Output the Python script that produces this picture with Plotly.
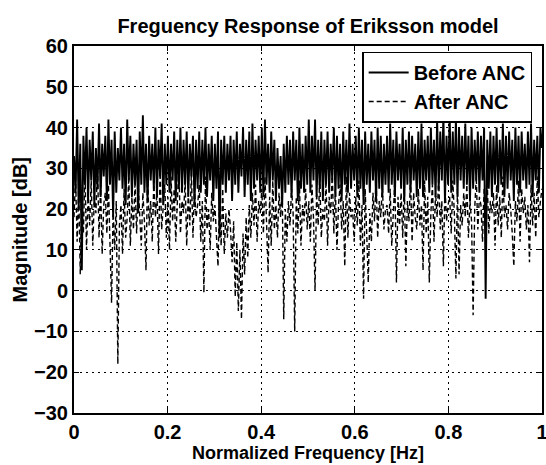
import plotly.graph_objects as go

# Magnitude values (dB), evenly spaced over normalized frequency 0..1
before_anc = [
    33, 24, 42, 20, 36, 5, 38, 26, 40, 22,
    37, 27, 39, 21, 35, 25, 41, 23, 36, 28,
    38, 22, 42, 26, 37, 18, 39, 24, 35, 27,
    40, 25, 36, 21, 42, 27, 38, 23, 36, 26,
    37, 19, 39, 26, 43, 24, 36, 22, 38, 27,
    36, 25, 40, 23, 37, 28, 41, 21, 36, 26,
    38, 24, 36, 27, 39, 22, 37, 25, 40, 24,
    37, 26, 39, 23, 36, 28, 38, 21, 37, 25,
    39, 24, 37, 26, 40, 23, 36, 27, 38, 22,
    36, 25, 39, 13, 37, 26, 38, 24, 36, 27,
    38, 22, 37, 26, 39, 24, 36, 28, 40, 23,
    37, 26, 39, 22, 41, 25, 37, 27, 38, 24,
    40, 23, 42, 26, 36, 24, 39, 27, 37, 22,
    35, 25, 33, 21, 36, 24, 38, 26, 37, 23,
    39, 27, 37, 22, 40, 25, 36, 24, 38, 26,
    42, 24, 38, 27, 42, 23, 37, 25, 39, 22,
    37, 26, 39, 24, 36, 27, 40, 23, 38, 25,
    36, 22, 39, 26, 37, 24, 41, 25, 36, 27,
    38, 23, 40, 25, 37, 21, 39, 26, 36, 24,
    39, 27, 37, 22, 40, 25, 38, 23, 36, 26,
    38, 24, 41, 26, 37, 23, 39, 27, 36, 25,
    40, 22, 37, 26, 39, 24, 38, 27, 36, 23,
    39, 25, 41, 23, 37, 27, 38, 24, 40, 26,
    37, 23, 42, 25, 39, 27, 43, 22, 38, 26,
    43, 24, 39, 26, 42, 23, 40, 27, 38, 25,
    41, 26, 38, 22, 40, 25, 37, 27, 39, 24,
    38, 27, 40, -2, 37, 25, 39, 23, 38, 26,
    40, 24, 37, 26, 41, 23, 38, 25, 39, 27,
    37, 22, 40, 26, 38, 24, 39, 27, 36, 25,
    39, 26, 41, 23, 37, 27, 38, 24, 40, 35,
]

after_anc = [
    18, 28, 12, 25, 4, 22, 14, 30, 10, 24,
    16, 27, 11, 23, 19, 31, 13, 26, 9, 21,
    24, 14, 26, 12, -3, 20, 10, 22, -18, 16,
    21, 9, 25, 13, 18, 28, 11, 23, 15, 27,
    14, 26, 19, 11, 24, 17, 5, 29, 16, 22,
    12, 27, 18, 24, 9, 30, 15, 21, 26, 13,
    23, 10, 28, 17, 25, 12, 20, 31, 14, 22,
    19, 27, 11, 24, 16, 29, 13, 25, 18, 21,
    26, 12, 22, -0.5, 28, 15, 20, 10, 24, 17,
    21, 14, 6, 23, 11, 25, 9, 19, 13, 20,
    15, 7, 17, -1.5, 12, -5, 10, -7, 14, 4,
    18, 8, 21, 13, 24, 16, 26, 12, 22, 19,
    25, 14, 28, 17, 4.4, 23, 11, 27, 15, 21,
    13, 24, 18, 26, -7, 20, 12, 22, 16, 25,
    19, -10, 23, 14, 27, 11, 21, 17, 25, 15,
    22, 12, 26, 18, 0, 24, 16, 28, 13, 20,
    17, 27, 11, 23, 19, 29, 14, 25, 10, 21,
    26, 15, 22, 6, 28, 13, 24, 18, 20, 12,
    23, 16, 27, 11, 21, -2, 25, 14, 2, 19,
    12, 24, 17, 28, 13, 22, 18, 26, 15, 20,
    21, 14, 25, 11, 19, 27, 2, 23, 16, 24,
    13, 26, 6, 22, 17, 28, 12, 24, 18, 15,
    25, 16, 21, 5, 27, 14, 23, 2, 19, 26,
    12, 24, 18, 28, 15, 22, 6, 26, 17, 21,
    23, 14, 27, 19, 3, 25, 4, 21, 16, 24,
    18, 26, 13, 22, 17, -6, 20, 28, 15, 23,
    21, 12, 25, 17, 27, 14, 22, 19, 24, 11,
    26, 16, 23, 13, 28, 18, 21, 15, 24, 20,
    14, 6, 22, 17, 27, 12, 25, 19, 23, 15,
    21, 7, 26, 16, 24, 13, 28, 18, 22, 25,
]

n = len(before_anc)
freq = [i / (n - 1) for i in range(n)]

x_ticks = [0, 0.2, 0.4, 0.6, 0.8, 1]
x_tick_labels = ["0", "0.2", "0.4", "0.6", "0.8", "1"]
y_ticks = [-30, -20, -10, 0, 10, 20, 30, 40, 50, 60]

FONT = "Liberation Sans, Arial, sans-serif"
TXT = dict(family=FONT, size=20, color="black", weight="bold")
XLAB = dict(family=FONT, size=18, color="black", weight="bold")

fig = go.Figure()
fig.add_trace(go.Scatter(x=freq, y=before_anc, mode="lines", name="Before ANC",
                         line=dict(color="black", width=1.9)))
fig.add_trace(go.Scatter(x=freq, y=after_anc, mode="lines", name="After ANC",
                         line=dict(color="black", width=1.4, dash="5px,3px")))

axis_common = dict(
    showline=True, linecolor="black", linewidth=2, mirror="ticks",
    ticks="inside", ticklen=5, tickwidth=1, tickcolor="black",
    showgrid=True, gridcolor="black", gridwidth=1, griddash="2px,4px",
    zeroline=False, automargin=False, ticklabeloverflow="allow",
    tickfont=TXT,
)

fig.update_xaxes(range=[0, 1], tickvals=x_ticks, ticktext=x_tick_labels, **axis_common)
fig.update_yaxes(range=[-30, 60], tickvals=y_ticks, **axis_common)

fig.add_annotation(text="Normalized Frequency [Hz]", xref="paper", yref="paper",
                   x=0.5, y=-0.1386, xanchor="center", yanchor="bottom",
                   showarrow=False, font=XLAB, borderpad=0)
fig.add_annotation(text="Magnitude [dB]", xref="paper", yref="paper",
                   x=-0.1154, y=0.5, xanchor="center", yanchor="middle",
                   textangle=-90, showarrow=False, font=TXT)

fig.update_layout(
    width=546, height=465, autosize=False,
    margin=dict(l=74, r=4, t=46, b=52),
    paper_bgcolor="white", plot_bgcolor="white",
    font=dict(family=FONT, color="black"),
    title=dict(text="Freguency Response of Eriksson model", x=0.5, xref="paper",
               y=0.945, yref="container", xanchor="center", yanchor="middle",
               font=TXT),
    showlegend=True,
    legend=dict(x=0.979, y=0.985, xanchor="right", yanchor="top",
                bgcolor="white", bordercolor="black", borderwidth=1.5,
                font=TXT, tracegroupgap=0, itemwidth=40),
)

fig.write_html("out.html",
               config={"displayModeBar": False, "responsive": False},
               post_script="document.body.style.margin='0';")
